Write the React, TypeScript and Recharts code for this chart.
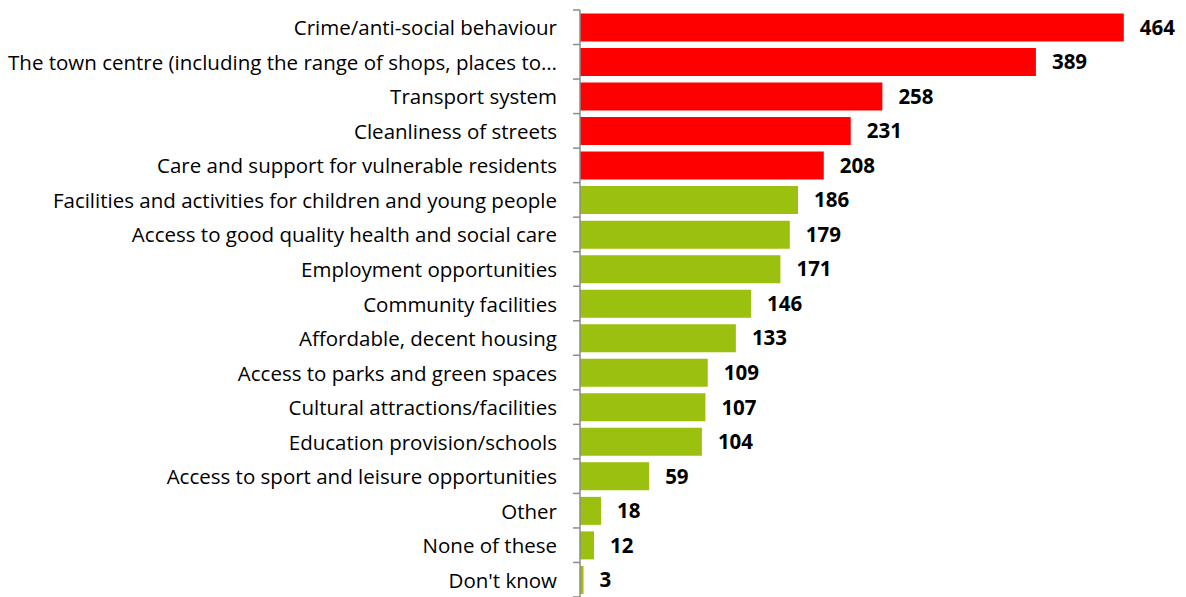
import React from "react";
import { BarChart, Bar, XAxis, YAxis, Cell, LabelList } from "recharts";

const categories = [
  "Crime/anti-social behaviour",
  "The town centre (including the range of shops, places to…",
  "Transport system",
  "Cleanliness of streets",
  "Care and support for vulnerable residents",
  "Facilities and activities for children and young people",
  "Access to good quality health and social care",
  "Employment opportunities",
  "Community facilities",
  "Affordable, decent housing",
  "Access to parks and green spaces",
  "Cultural attractions/facilities",
  "Education provision/schools",
  "Access to sport and leisure opportunities",
  "Other",
  "None of these",
  "Don't know",
];
const counts = [464, 389, 258, 231, 208, 186, 179, 171, 146, 133, 109, 107, 104, 59, 18, 12, 3];
const highlightCount = 5;

const RED = "#FF0000";
const GREEN = "#9BC00F";
const FONT = "'Open Sans', sans-serif";

const data = categories.map((name, i) => ({ name, value: counts[i] }));

const W = 1186;
const H = 597;
const TOP = 10;
const BOTTOM = 0;
const step = (H - TOP - BOTTOM) / categories.length;

const Tick = (props: any) => {
  const { x, y, payload, index } = props;
  const ax = x + 8; // axis line x (tickSize 6 + tickMargin 2)
  return (
    <g>
      <line x1={ax - 7} x2={ax} y1={y - step / 2} y2={y - step / 2} stroke="#8c8c8c" strokeWidth={1.5} />
      {index === categories.length - 1 && (
        <line x1={ax - 7} x2={ax} y1={y + step / 2} y2={y + step / 2} stroke="#8c8c8c" strokeWidth={1.5} />
      )}
      <text x={ax - 23} y={y} textAnchor="end" dominantBaseline="central" fontSize={20.5} fontFamily={FONT} fill="#000">
        {payload.value}
      </text>
    </g>
  );
};

export default function App() {
  return (
    <div style={{ position: "absolute", left: 0, top: 0, width: W, height: H, background: "#fff" }}>
      <BarChart
        width={W}
        height={H}
        data={data}
        layout="vertical"
        margin={{ top: TOP, right: 20, bottom: BOTTOM, left: 0 }}
        barCategoryGap="10%"
      >
        <XAxis type="number" domain={[0, 500]} hide />
        <YAxis
          type="category"
          dataKey="name"
          width={580}
          axisLine={{ stroke: "#8c8c8c", strokeWidth: 1.5 }}
          tickLine={false}
          tick={<Tick />}
          interval={0}
        />
        <Bar dataKey="value" isAnimationActive={false}>
          {data.map((d, i) => (
            <Cell key={d.name} fill={i < highlightCount ? RED : GREEN} />
          ))}
          <LabelList
            dataKey="value"
            position="right"
            offset={16}
            fontSize={20.5}
            fontWeight="bold"
            fontFamily={FONT}
            fill="#000"
          />
        </Bar>
      </BarChart>
    </div>
  );
}
